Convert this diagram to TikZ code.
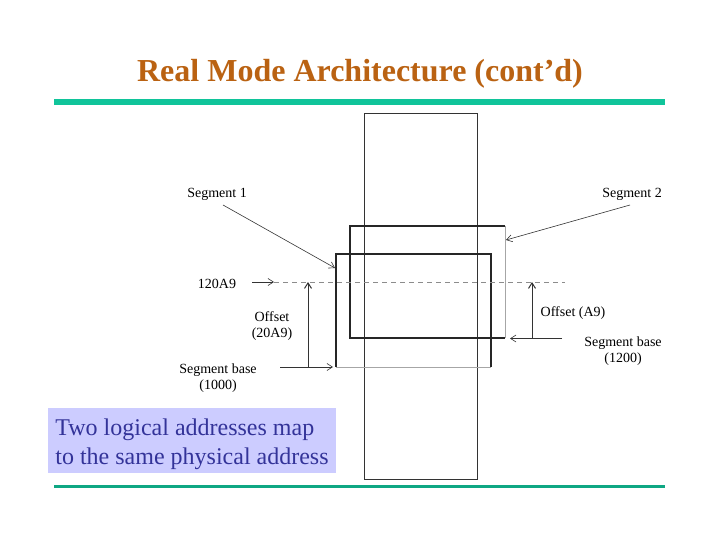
\documentclass[tikz,border=0pt]{standalone}
\usepackage{fontspec}
\setmainfont{Liberation Serif}
\usepackage{tikz}
\usetikzlibrary{arrows.meta}
\usepackage{xcolor}
\definecolor{titlebrown}{RGB}{186,98,18}
\definecolor{rulegreen}{RGB}{16,196,154}
\definecolor{notefill}{RGB}{204,204,255}
\definecolor{notetext}{RGB}{51,51,153}

\begin{document}
\begin{tikzpicture}[x=1pt,y=-1pt,>={Straight Barb[length=5.5pt,width=7pt]},
lbl/.style={inner sep=0pt,font=\fontsize{14}{16.5}\selectfont},
blk/.style={inner sep=0pt,outer sep=0pt},
dk/.style={line width=1.2pt,black!85},
lt/.style={line width=0.8pt,black!35},
arr/.style={line width=0.6pt,black!80}]
\useasboundingbox (0,0) rectangle (720,540);
% title and rules
\node[inner sep=0pt,font=\fontsize{32}{36}\selectfont\bfseries,text=titlebrown](title) at (360,74){Real Mode Architecture (cont’d)};
\draw[rulegreen,line width=6pt](54,102)--(665,102);
\draw[rulegreen!85!black,line width=2.5pt](54,486.5)--(665,486.5);
% memory and the two segments
\node[blk,minimum width=113pt,minimum height=365pt](mem) at (420.5,296.5){};
\node[blk,minimum width=155pt,minimum height=112pt](seg2) at (427.5,282){};
\node[blk,minimum width=155pt,minimum height=113pt](seg1) at (413.5,310.5){};
\draw[line width=1pt,black!80](mem.south west) rectangle (mem.north east);
\draw[lt](seg2.north east)--(seg2.south east);
\draw[dk](seg2.north east)--(seg2.north west)--(seg2.south west)--(seg2.south east);
\draw[lt](seg1.south west)--(seg1.south east);
\draw[dk](seg1.south west)--(seg1.north west)--(seg1.north east)--(seg1.south east);
% labels
\node[lbl](s1lbl) at (217,194){Segment 1};
\node[lbl](s2lbl) at (632,194){Segment 2};
\node[lbl](addr) at (217,284){120A9};
\node[lbl,align=center](off1) at (272,326){Offset\\(20A9)};
\node[lbl,align=center](base1) at (218,378){Segment base\\(1000)};
\node[lbl](off2) at (573,313){Offset (A9)};
\node[lbl,align=center](base2) at (623,351){Segment base\\(1200)};
% connector ends
\coordinate(s1tip) at (335,268);\coordinate(s1tail) at (223,205);
\coordinate(s2tip) at (506,240);\coordinate(s2tail) at (630,205);
\coordinate(addrtail) at (252,282);\coordinate(addrtip) at (274,282);\coordinate(dashend) at (565,282);
\coordinate(b1tail) at (280,367);\coordinate(b1tip) at (333,367);
\coordinate(b2tail) at (562,338.5);\coordinate(b2tip) at (510,338.5);
\coordinate(o1bot) at (308,367);\coordinate(o1top) at (308,282);
\coordinate(o2bot) at (532,338.5);\coordinate(o2top) at (532,282);
\draw[black!45,line width=0.7pt,dash pattern=on 5pt off 4pt](addrtip)--(dashend);
\draw[arr,->](s1tail)--(s1tip);\draw[arr,->](s2tail)--(s2tip);\draw[arr,->](addrtail)--(addrtip);
\draw[arr,->](b1tail)--(b1tip);\draw[arr,->](b2tail)--(b2tip);
\draw[arr,line width=1pt,->](o1bot)--(o1top);\draw[arr,line width=1pt,->](o2bot)--(o2top);
% note
\node[fill=notefill,minimum width=288pt,minimum height=65pt,inner sep=0pt](notebox) at (192,440.5){};
\node[text=notetext,inner sep=0pt,align=left,font=\fontsize{24}{29}\selectfont](note) at ([yshift=-3.5pt]notebox.center){Two logical addresses map\\to the same physical address};
\end{tikzpicture}
\end{document}
